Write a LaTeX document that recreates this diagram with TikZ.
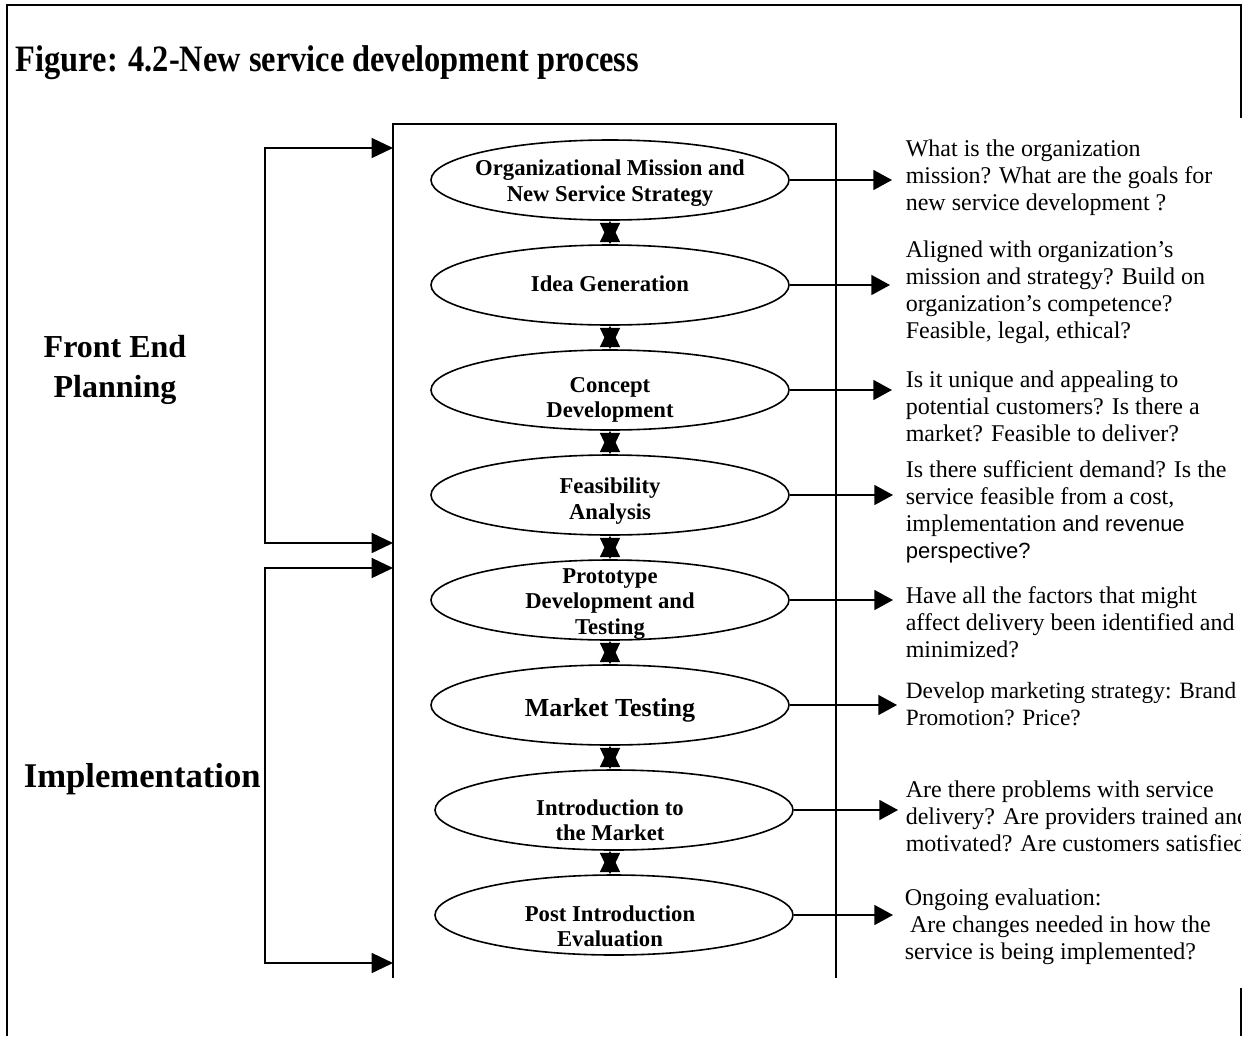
\documentclass[tikz,border=0pt]{standalone}
\usepackage{graphicx}
\usepackage{fontspec}
\setmainfont{Liberation Serif}
\newfontfamily\arialish{Liberation Sans}
\usetikzlibrary{shapes.geometric,arrows.meta,calc}

\begin{document}
\begin{tikzpicture}[x=0.75pt,y=-0.75pt,line width=1.2pt,
  stage/.style={ellipse,draw,minimum width=268.5pt,minimum height=60pt,inner sep=0pt},
  stagetext/.style={font=\bfseries\fontsize{17}{19}\selectfont,align=center,inner sep=0pt},
  bigtext/.style={font=\bfseries\fontsize{19.5}{22}\selectfont,align=center,inner sep=0pt},
  phase/.style={font=\bfseries\fontsize{24}{30}\selectfont,align=center,inner sep=0pt},
  question/.style={font=\fontsize{18}{20.25}\selectfont,align=left,anchor=north west,inner sep=0pt},
  link/.style={-{Triangle[length=14pt,width=15pt]}},
  feed/.style={{Triangle[length=16pt,width=15pt]}-{Triangle[length=16pt,width=15pt]}},
  dbl/.style={{Triangle[length=16pt,width=15pt]}-{Triangle[length=16pt,width=15pt]}}]

\useasboundingbox (0,0) rectangle (1242,1036);

% outer frame (open at the bottom)
\draw[line width=1.8pt] (1241,118) -- (1241,5) -- (7,5) -- (7,1036);
\draw[line width=1.8pt] (1241,988) -- (1241,1036);

% title
\node[anchor=base west,inner sep=0pt,font=\bfseries\fontsize{24.3}{29}\selectfont]
  (title) at (15,71) {\scalebox{1}[1.15]{Figure: 4.2-New service development process}};

% process frame (open at the bottom)
\coordinate (tl) at (393,124);
\coordinate (tr) at (836,124);
\coordinate (bl) at (393,978);
\coordinate (br) at (836,978);
\draw (bl) -- (tl) -- (tr) -- (br);

% stages
\node[stage] (s1) at (610,180) {};
\node[stage] (s2) at (610,285) {};
\node[stage] (s3) at (610,390) {};
\node[stage] (s4) at (610,495) {};
\node[stage] (s5) at (610,600) {};
\node[stage] (s6) at (610,705) {};
\node[stage] (s7) at (614,810) {};
\node[stage] (s8) at (614,915) {};

\node[stagetext] (s1t) at (610,183) {Organizational Mission and\\New Service Strategy};
\node[stagetext] (s2t) at (610,284) {Idea Generation};
\node[stagetext] (s3t) at (610,400) {Concept\\Development};
\node[stagetext] (s4t) at (610,501) {Feasibility\\Analysis};
\node[stagetext] (s5t) at (610,604) {Prototype\\Development and\\Testing};
\node[bigtext]   (s6t) at (610,710) {Market Testing};
\node[stagetext] (s7t) at (610,820) {Introduction to\\the Market};
\node[stagetext] (s8t) at (610,926) {Post Introduction\\Evaluation};

% links between stages
\draw[dbl] (s1.south) -- (s2.north);
\draw[dbl] (s2.south) -- (s3.north);
\draw[dbl] (s3.south) -- (s4.north);
\draw[dbl] (s4.south) -- (s5.north);
\draw[dbl] (s5.south) -- (s6.north);
\draw[dbl] (s6.south) -- (s6.south |- s7.north);
\draw[dbl] (s6.south |- s7.south) -- (s6.south |- s8.north);

% phase brackets
\coordinate (fe1) at (265,148);
\coordinate (fe2) at (265,543);
\coordinate (im1) at (265,568);
\coordinate (im2) at (265,963);
\draw[feed] (fe1 -| tl) -- (fe1) -- (fe2) -- (fe2 -| tl);
\draw[feed] (im1 -| tl) -- (im1) -- (im2) -- (im2 -| tl);

\node[phase] (front) at (115,370) {Front End\\Planning};
\node[phase,font=\bfseries\fontsize{26}{30}\selectfont,anchor=base west] (impl) at (23,787) {Implementation};

% arrows to the guiding questions
\coordinate (a1) at (892,180);
\coordinate (a2) at (890,285);
\coordinate (a3) at (892,390);
\coordinate (a4) at (893,495);
\coordinate (a5) at (893,600);
\coordinate (a6) at (897,705);
\coordinate (a7) at (898,810);
\coordinate (a8) at (893,915);
\draw[link] (s1.east) -- (a1);
\draw[link] (s2.east) -- (a2);
\draw[link] (s3.east) -- (a3);
\draw[link] (s4.east) -- (a4);
\draw[link] (s5.east) -- (a5);
\draw[link] (s6.east) -- (a6);
\draw[link] (s7.east) -- (a7);
\draw[link] (s8.east) -- (a8);

% guiding questions
\begin{scope}
\clip (0,0) rectangle (1240,1036);
\node[question] (q1) at (905,139) {What is the organization\\mission? What are the goals for\\new service development ?};
\node[question] (q2) at (905,240) {Aligned with organization's\\mission and strategy? Build on\\organization's competence?\\Feasible, legal, ethical?};
\node[question] (q3) at (905,370) {Is it unique and appealing to\\potential customers? Is there a\\market? Feasible to deliver?};
\node[question] (q4) at (905,460) {Is there sufficient demand? Is the\\service feasible from a cost,\\implementation {\arialish\fontsize{16.5}{20.25}\selectfont and revenue}\\{\arialish\fontsize{16.5}{20.25}\selectfont perspective?}};
\node[question] (q5) at (905,586) {Have all the factors that might\\affect delivery been identified and\\minimized?};
\node[question,font=\fontsize{17.5}{20.25}\selectfont] (q6) at (905,681) {Develop marketing strategy: Brand\\Promotion? Price?};
\node[question] (q7) at (905,780) {Are there problems with service\\delivery? Are providers trained and\\motivated? Are customers satisfied?};
\node[question] (q8) at (904,888) {Ongoing evaluation:\\\hspace*{4pt}Are changes needed in how the\\service is being implemented?};
\end{scope}

\end{tikzpicture}
\end{document}
